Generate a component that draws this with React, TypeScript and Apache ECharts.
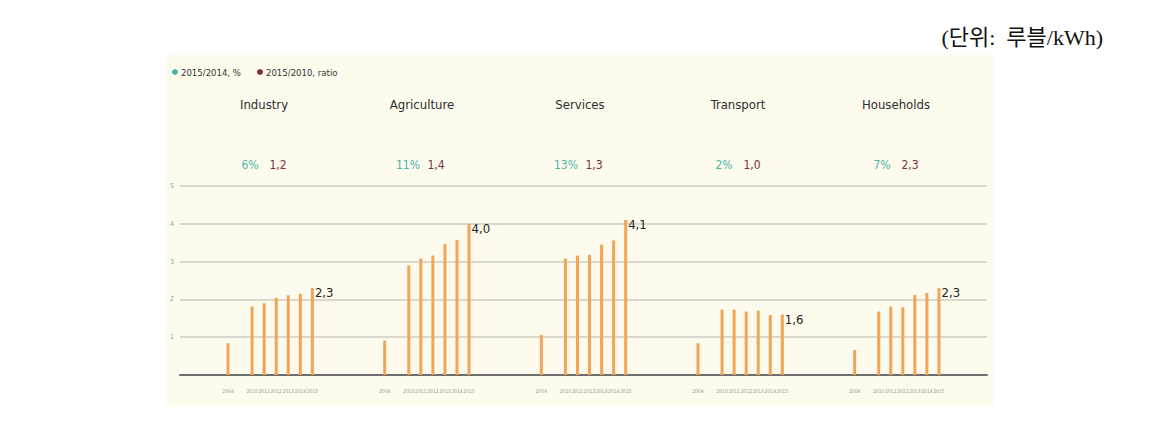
import React, { useEffect, useRef } from "react";
import * as echarts from "echarts";

const categories = ["Industry", "Agriculture", "Services", "Transport", "Households"];
const years = ["2004", "2010", "2011", "2012", "2013", "2014", "2015"];
const industry = [0.84, 1.81, 1.9, 2.04, 2.11, 2.15, 2.3];
const agriculture = [0.91, 2.9, 3.08, 3.16, 3.47, 3.57, 4.0];
const services = [1.06, 3.08, 3.16, 3.18, 3.45, 3.56, 4.1];
const transport = [0.84, 1.73, 1.73, 1.68, 1.7, 1.59, 1.6];
const households = [0.66, 1.68, 1.81, 1.79, 2.12, 2.17, 2.3];
const pctChange = [6, 11, 13, 2, 7];
const ratio = [1.2, 1.4, 1.3, 1.0, 2.3];
const yTicks = [0, 1, 2, 3, 4, 5];
const legendLabels = ["2015/2014, %", "2015/2010, ratio"];
const unitText = "(단위:  루블/kWh)";

const seriesValues = [industry, agriculture, services, transport, households];

const NARROW = "'Liberation Sans Narrow', 'DejaVu Sans Condensed', 'Roboto', sans-serif";
const TEAL = "#4fb5a8";
const WINE = "#7b2f3d";
const BAR = "#f3a557";

const fmt = (v: number) => v.toFixed(1).replace(".", ",");

export default function App() {
  const ref = useRef<HTMLDivElement>(null);
  useEffect(() => {
    if (!ref.current) return;
    const chart = echarts.init(ref.current, null, { renderer: "svg" });

    const slotKeys: string[] = [];
    const slotLabels: string[] = [];
    const slotData: any[] = [];
    categories.forEach((cat, g) => {
      const vals = seriesValues[g];
      const pushSlot = (key: string, label: string, val: any) => {
        slotKeys.push(key);
        slotLabels.push(label);
        slotData.push(val);
      };
      years.forEach((yr, i) => {
        if (i === 1) pushSlot(cat + "-gap", "", "-");
        const isLast = i === years.length - 1;
        pushSlot(
          cat + "-" + yr,
          yr,
          isLast
            ? {
                value: vals[i],
                label: {
                  show: true,
                  position: ["100%", 0],
                  offset: [1, -2],
                  align: "left",
                  verticalAlign: "top",
                  formatter: (p: any) => fmt(p.value),
                  color: "#222",
                  fontSize: 13,
                  fontFamily: NARROW,
                },
              }
            : vals[i]
        );
      });
      if (g < categories.length - 1) {
        for (let k = 0; k < 5; k++) pushSlot(cat + "-pad" + k, "", "-");
      }
    });

    const graphics: any[] = [
      {
        type: "rect",
        z: -10,
        silent: true,
        shape: { x: 167, y: 55, width: 826, height: 352 },
        style: { fill: "#fdfbed" },
      },
      { type: "circle", shape: { cx: 175, cy: 72, r: 3 }, style: { fill: TEAL } },
      {
        type: "text",
        x: 181,
        y: 72,
        style: { text: legendLabels[0], fontSize: 9.5, fontFamily: NARROW, fill: "#333", verticalAlign: "middle" },
      },
      { type: "circle", shape: { cx: 260, cy: 72, r: 3 }, style: { fill: WINE } },
      {
        type: "text",
        x: 266,
        y: 72,
        style: { text: legendLabels[1], fontSize: 9.5, fontFamily: NARROW, fill: "#333", verticalAlign: "middle" },
      },
      {
        type: "text",
        x: 1103,
        y: 37,
        style: {
          text: unitText,
          fontSize: 22,
          fontFamily: "'Liberation Serif', 'Noto Sans CJK KR', serif",
          fill: "#111",
          align: "right",
          verticalAlign: "middle",
        },
      },
    ];
    categories.forEach((cat, g) => {
      const cx = 264 + g * 158;
      graphics.push({
        type: "text",
        x: cx,
        y: 104,
        style: { text: cat, fontSize: 13, fontFamily: NARROW, fill: "#2d2d2d", align: "center", verticalAlign: "middle" },
      });
      graphics.push({
        type: "text",
        x: cx - 14,
        y: 165,
        style: {
          text: pctChange[g] + "%",
          fontSize: 12,
          fontFamily: NARROW,
          fill: TEAL,
          align: "center",
          verticalAlign: "middle",
        },
      });
      graphics.push({
        type: "text",
        x: cx + 14,
        y: 165,
        style: {
          text: fmt(ratio[g]),
          fontSize: 12,
          fontFamily: NARROW,
          fill: WINE,
          align: "center",
          verticalAlign: "middle",
        },
      });
    });

    chart.setOption({
      animation: false,
      backgroundColor: "#ffffff",
      grid: [
        { left: 180, right: 180, top: 186, bottom: 48 },
        { left: 222, right: 222, top: 186, bottom: 48 },
      ],
      xAxis: [
        {
          gridIndex: 0,
          type: "value",
          min: 0,
          max: 1,
          axisLine: { show: true, lineStyle: { color: "#6d6d6d", width: 2 } },
          axisTick: { show: false },
          axisLabel: { show: false },
          splitLine: { show: false },
        },
        {
          gridIndex: 1,
          type: "category",
          data: slotKeys,
          axisLine: { show: false },
          axisTick: { show: false },
          axisLabel: {
            interval: 0,
            margin: 13,
            fontSize: 5,
            color: "#9a9a9a",
            fontFamily: NARROW,
            formatter: (_v: string, idx: number) => slotLabels[idx],
          },
        },
      ],
      yAxis: [
        {
          gridIndex: 0,
          type: "value",
          min: yTicks[0],
          max: yTicks[yTicks.length - 1],
          interval: 1,
          axisLine: { show: false },
          axisTick: { show: false },
          axisLabel: {
            margin: 6,
            fontSize: 7,
            color: "#9a9a9a",
            fontFamily: NARROW,
            formatter: (v: number) => (v === 0 ? "" : String(v)),
          },
          splitLine: { show: true, lineStyle: { color: "#cfcdc2", width: 1.5 } },
        },
        {
          gridIndex: 1,
          type: "value",
          min: yTicks[0],
          max: yTicks[yTicks.length - 1],
          show: false,
          splitLine: { show: false },
        },
      ],
      series: [
        {
          type: "bar",
          xAxisIndex: 1,
          yAxisIndex: 1,
          data: slotData,
          barWidth: 3,
          itemStyle: { color: BAR },
          z: 3,
        },
      ],
      graphic: graphics,
    });
    return () => chart.dispose();
  }, []);
  return (
    <div
      ref={ref}
      style={{ position: "fixed", left: 0, top: 0, width: 1167, height: 423 }}
    />
  );
}
